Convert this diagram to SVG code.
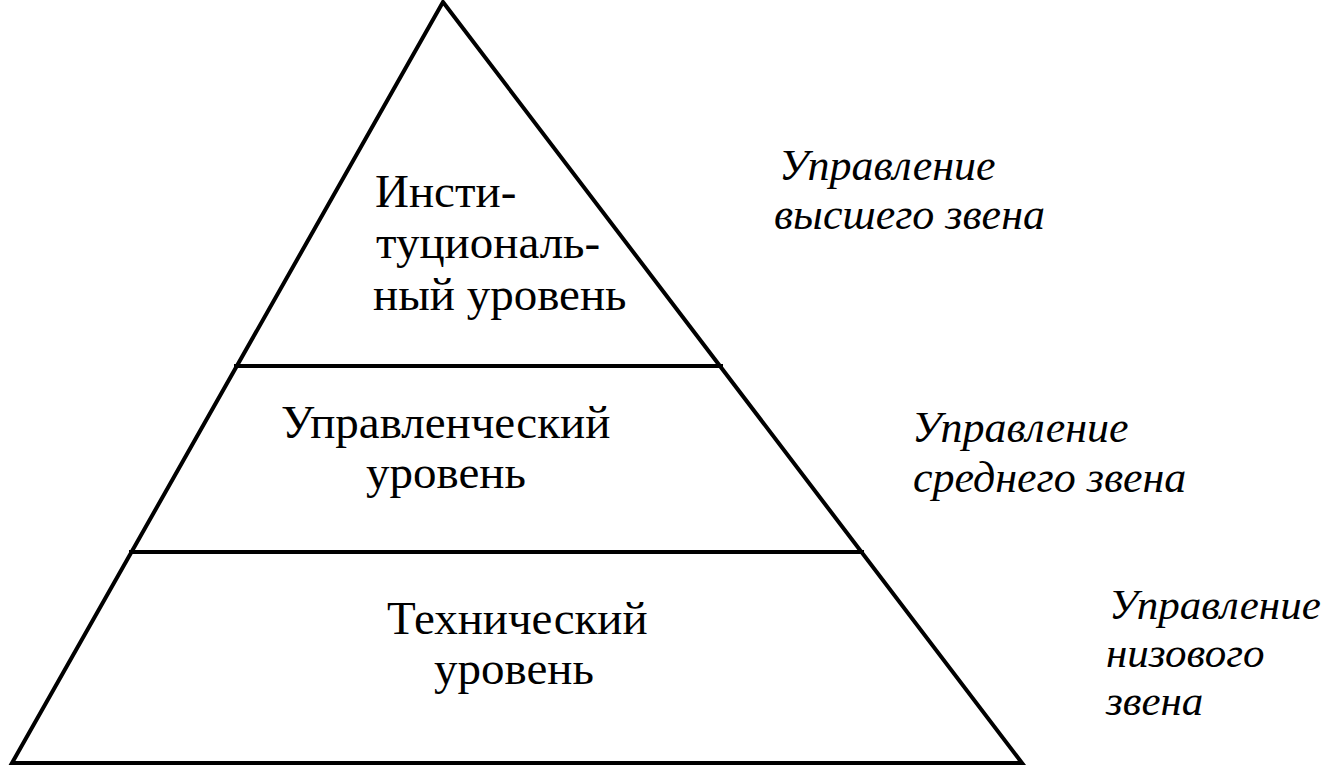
<svg xmlns="http://www.w3.org/2000/svg" width="1336" height="778" viewBox="0 0 1336 778">
<style>
.ln{stroke:#000;stroke-width:4;fill:none;stroke-linejoin:miter;stroke-linecap:square}
.t{font-family:"Liberation Serif","Times New Roman",serif;font-size:47px;fill:#000}
.i{font-family:"Liberation Serif","Times New Roman",serif;font-style:italic;font-size:44px;fill:#000}
.s{font-size:43px}
</style>
<rect width="1336" height="778" fill="#fff"/>
<g id="pyramid">
<polygon class="ln" points="443,2 12,763 1022,763"/>
</g>
<g id="connectors">
<line class="ln" x1="236" y1="366" x2="721" y2="366"/>
<line class="ln" x1="131" y1="552" x2="862" y2="552"/>
</g>
<g id="institutional">
<text class="t" x="375" y="207">Инсти-</text>
<text class="t" x="376" y="258">туциональ-</text>
<text class="t" x="373" y="310">ный уровень</text>
</g>
<g id="managerial">
<text class="t" x="281" y="438">Управленческий</text>
<text class="t" x="366" y="488">уровень</text>
</g>
<g id="technical">
<text class="t" x="387" y="634">Технический</text>
<text class="t" x="434" y="684">уровень</text>
</g>
<g id="top-mgmt">
<text class="i" x="779" y="180">Управление</text>
<text class="i" x="774" y="229">высшего звена</text>
</g>
<g id="middle-mgmt">
<text class="i" x="912" y="442">Управление</text>
<text class="i" x="913" y="492">среднего звена</text>
</g>
<g id="lower-mgmt">
<text class="i s" x="1109" y="619">Управление</text>
<text class="i s" x="1106" y="667">низового</text>
<text class="i s" x="1106" y="715">звена</text>
</g>
</svg>
